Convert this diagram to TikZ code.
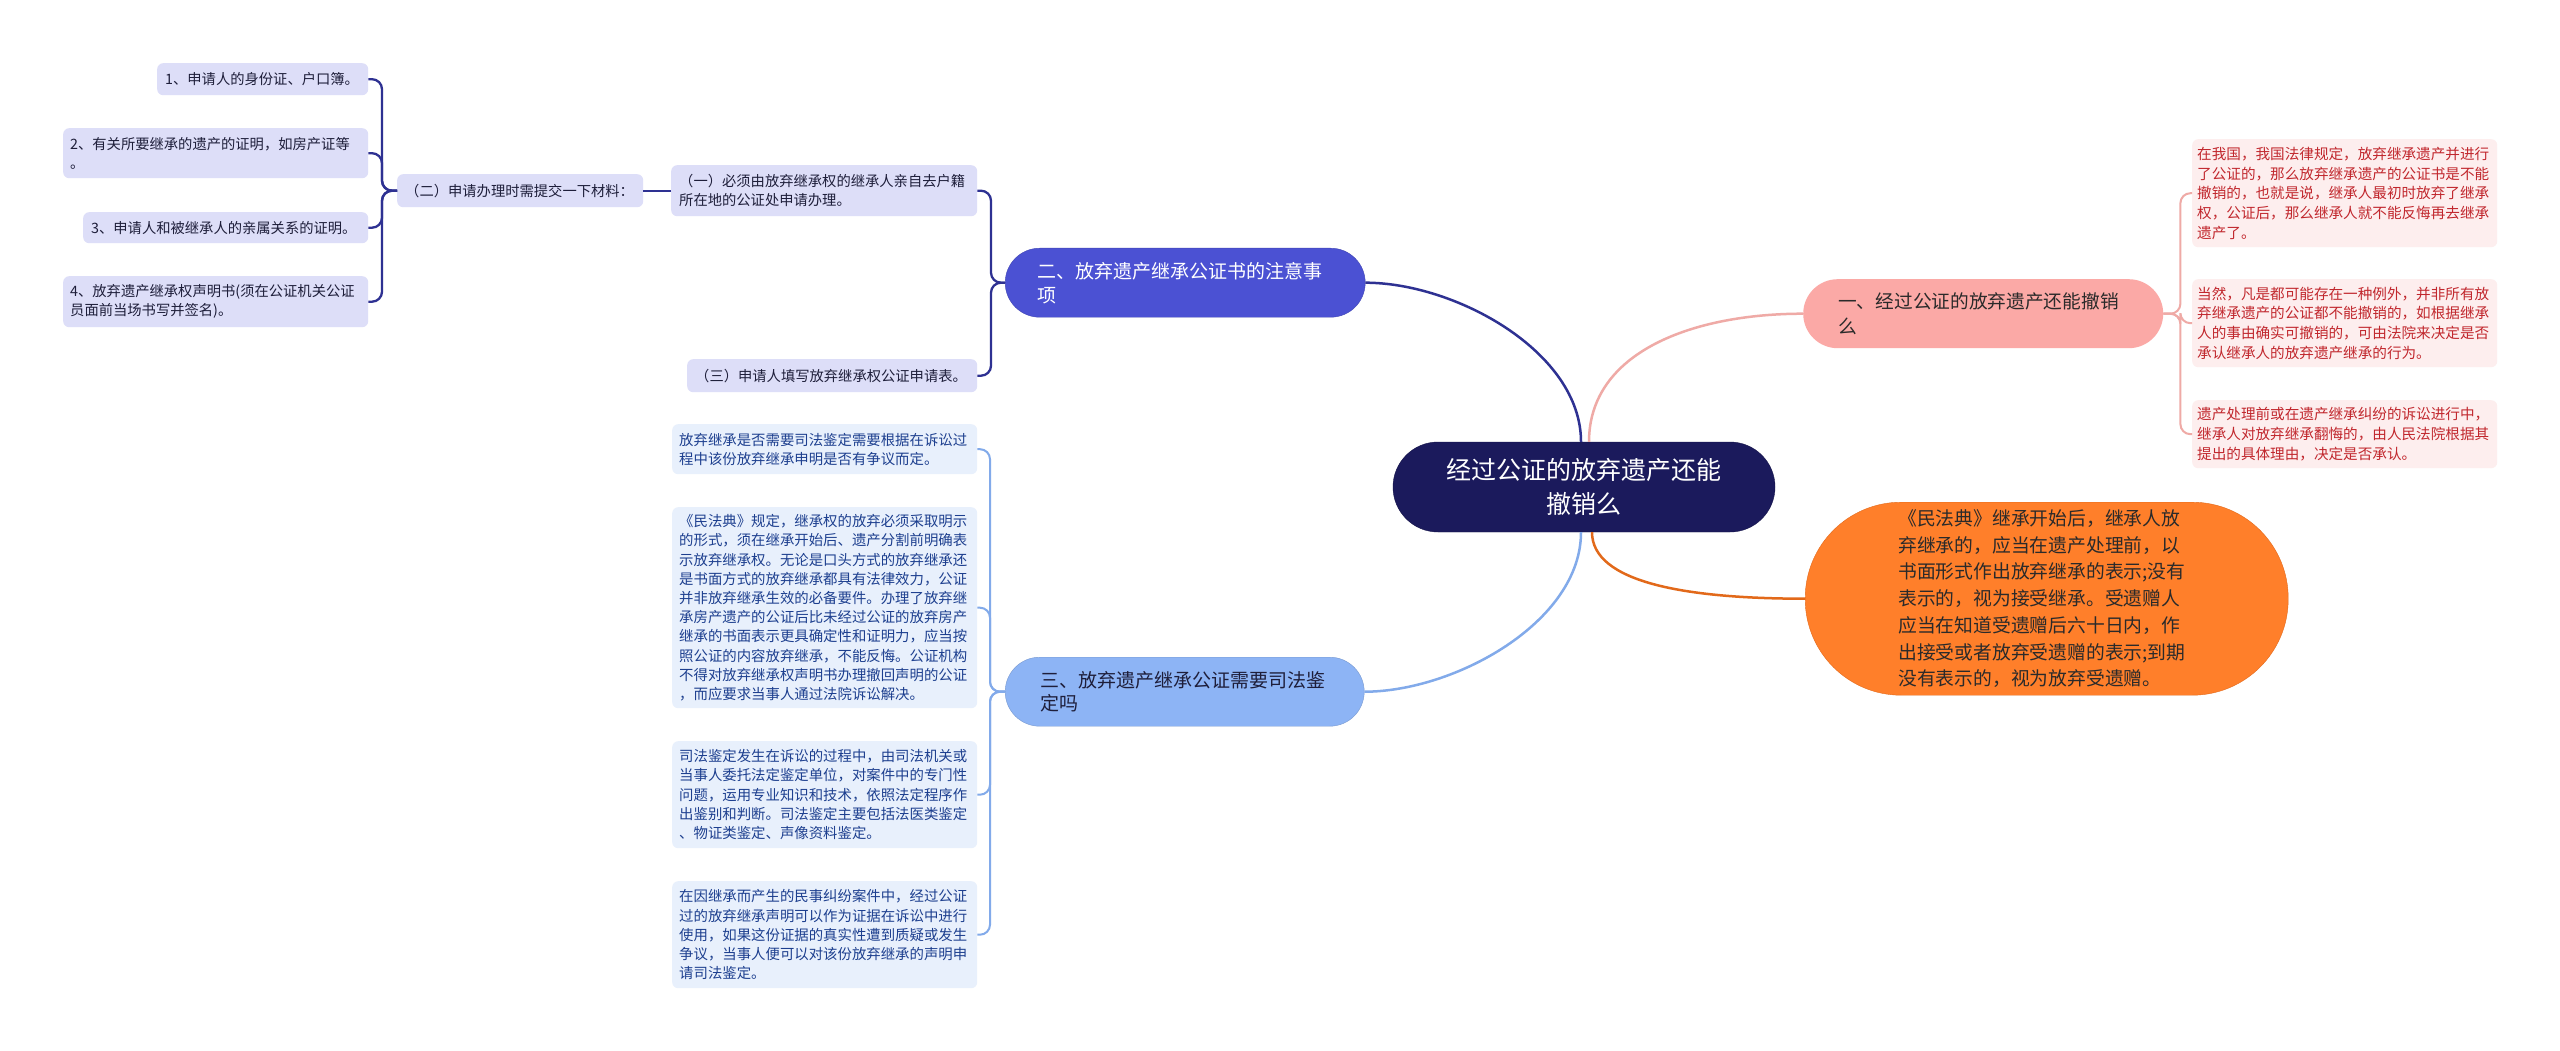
\documentclass[tikz,border=0pt]{standalone}
\usepackage{fontspec}
\setmainfont{Noto Sans CJK SC}
\definecolor{rootc}{HTML}{1B1A5C}
\definecolor{btwo}{HTML}{4B51D3}
\definecolor{btwoline}{HTML}{2E3192}
\definecolor{lav}{HTML}{DDDEF8}
\definecolor{lavtext}{HTML}{1E1E3A}
\definecolor{bthree}{HTML}{8DB4F5}
\definecolor{bthreeline}{HTML}{82AAEA}
\definecolor{tfill}{HTML}{E8F0FC}
\definecolor{ttext}{HTML}{1D3F8F}
\definecolor{bone}{HTML}{FBA9A6}
\definecolor{boneline}{HTML}{EFAAA6}
\definecolor{rfill}{HTML}{FDEEEE}
\definecolor{rtext}{HTML}{C1272D}
\definecolor{orc}{HTML}{FF7F2A}
\definecolor{orline}{HTML}{E2691A}
\definecolor{ortext}{HTML}{2A2A2A}
\begin{document}
\begin{tikzpicture}[x=1pt,y=-1pt,
  bx/.style n args={4}{rectangle, anchor=north west, align=left, inner ysep=0pt,
     minimum width=#1pt, minimum height=#2pt, inner xsep=#3pt, text width=#4pt},
  lavbox/.style={fill=lav, rounded corners=6pt, text=lavtext, font=\fontsize{14.3}{19.2}\selectfont},
  tbox/.style={fill=tfill, rounded corners=6pt, text=ttext, font=\fontsize{14.4}{19.2}\selectfont},
  rbox/.style={fill=rfill, rounded corners=6pt, text=rtext, font=\fontsize{14.6}{19.7}\selectfont},
  navyline/.style={draw=btwoline, line width=2.3pt, rounded corners=10pt},
  ltblueline/.style={draw=bthreeline, line width=2pt, rounded corners=10pt},
  pinkline/.style={draw=boneline, line width=2pt, rounded corners=10pt},
  mainline/.style={line width=2.5pt}
]
\useasboundingbox (0,0) rectangle (2560,1051);
\fill[white] (0,0) rectangle (2560,1051);

% root
\node[rectangle, fill=rootc, draw=rootc!80!black, rounded corners=45pt, minimum width=382pt, minimum height=90pt,
  align=center, text=white, font=\fontsize{25}{34}\selectfont] (root) at (1584,487) {经过公证的放弃遗产还能\\撤销么};

% main branches
\node[bx={360}{69}{35}{290}, fill=bone, rounded corners=34.5pt, text=ortext, font=\fontsize{18.7}{25}\selectfont]
  (b1) at (1803,279) {一、经过公证的放弃遗产还能撤销\\么};
\node[bx={360}{69}{32}{296}, fill=btwo, draw=btwo!85!black, rounded corners=34.5pt, text=white, font=\fontsize{19}{24}\selectfont]
  (b2) at (1005,248) {二、放弃遗产继承公证书的注意事\\项};
\node[bx={359}{69}{35}{289}, fill=bthree, draw=bthree!85!black, rounded corners=34.5pt, text=lavtext, font=\fontsize{19}{23.5}\selectfont]
  (b3) at (1005,657) {三、放弃遗产继承公证需要司法鉴\\定吗};
\node[bx={483}{193}{93}{297}, fill=orc, draw=orline, rounded corners=96pt, text=ortext, font=\fontsize{18.8}{26.7}\selectfont]
  (b4) at (1805,502) {《民法典》继承开始后，继承人放\\弃继承的，应当在遗产处理前，以\\书面形式作出放弃继承的表示;没有\\表示的，视为接受继承。受遗赠人\\应当在知道受遗赠后六十日内，作\\出接受或者放弃受遗赠的表示;到期\\没有表示的，视为放弃受遗赠。};

% right leaves
\node[bx={305}{108}{5}{295}, rbox] (r1) at (2192,139) {在我国，我国法律规定，放弃继承遗产并进行\\了公证的，那么放弃继承遗产的公证书是不能\\撤销的，也就是说，继承人最初时放弃了继承\\权，公证后，那么继承人就不能反悔再去继承\\遗产了。};
\node[bx={305}{88}{5}{295}, rbox] (r2) at (2192,279) {当然，凡是都可能存在一种例外，并非所有放\\弃继承遗产的公证都不能撤销的，如根据继承\\人的事由确实可撤销的，可由法院来决定是否\\承认继承人的放弃遗产继承的行为。};
\node[bx={305}{68}{5}{295}, rbox] (r3) at (2192,400) {遗产处理前或在遗产继承纠纷的诉讼进行中，\\继承人对放弃继承翻悔的，由人民法院根据其\\提出的具体理由，决定是否承认。};

% branch two children
\node[bx={306}{51}{8}{290}, lavbox] (n1) at (671,165) {（一）必须由放弃继承权的继承人亲自去户籍\\所在地的公证处申请办理。};
\node[bx={290}{33}{8}{274}, lavbox] (n3) at (687,359) {（三）申请人填写放弃继承权公证申请表。};
\node[bx={246}{33}{8}{230}, lavbox] (m) at (397,174) {（二）申请办理时需提交一下材料：};
\node[bx={211}{32}{8}{195}, lavbox] (l1) at (157,63) {1、申请人的身份证、户口簿。};
\node[bx={305}{50}{7}{291}, lavbox] (l2) at (63,128) {2、有关所要继承的遗产的证明，如房产证等\\。};
\node[bx={285}{31}{8}{269}, lavbox] (l3) at (83,212) {3、申请人和被继承人的亲属关系的证明。};
\node[bx={305}{51}{7}{291}, lavbox] (l4) at (63,276) {4、放弃遗产继承权声明书(须在公证机关公证\\员面前当场书写并签名)。};

% branch three children
\node[bx={305}{50}{7}{291}, tbox] (t1) at (672,424) {放弃继承是否需要司法鉴定需要根据在诉讼过\\程中该份放弃继承申明是否有争议而定。};
\node[bx={305}{201}{7}{291}, tbox] (t2) at (672,507) {《民法典》规定，继承权的放弃必须采取明示\\的形式，须在继承开始后、遗产分割前明确表\\示放弃继承权。无论是口头方式的放弃继承还\\是书面方式的放弃继承都具有法律效力，公证\\并非放弃继承生效的必备要件。办理了放弃继\\承房产遗产的公证后比未经过公证的放弃房产\\继承的书面表示更具确定性和证明力，应当按\\照公证的内容放弃继承，不能反悔。公证机构\\不得对放弃继承权声明书办理撤回声明的公证\\，而应要求当事人通过法院诉讼解决。};
\node[bx={305}{107}{7}{291}, tbox] (t3) at (672,741) {司法鉴定发生在诉讼的过程中，由司法机关或\\当事人委托法定鉴定单位，对案件中的专门性\\问题，运用专业知识和技术，依照法定程序作\\出鉴别和判断。司法鉴定主要包括法医类鉴定\\、物证类鉴定、声像资料鉴定。};
\node[bx={305}{107}{7}{291}, tbox] (t4) at (672,881) {在因继承而产生的民事纠纷案件中，经过公证\\过的放弃继承声明可以作为证据在诉讼中进行\\使用，如果这份证据的真实性遭到质疑或发生\\争议，当事人便可以对该份放弃继承的声明申\\请司法鉴定。};

% main connectors
\draw[mainline, draw=btwoline] (b2.east) .. controls +(90,0) and +(0,-90) .. ([xshift=-3pt]root.north);
\draw[mainline, draw=bthreeline] (b3.east) .. controls +(90,0) and +(0,90) .. ([xshift=-3pt]root.south);
\draw[mainline, draw=boneline] ([xshift=5pt]root.north) .. controls +(0,-90) and +(-110,0) .. (b1.west);
\draw[mainline, draw=orline] ([xshift=8pt]root.south) .. controls +(0,50) and +(-120,0) .. (b4.west);

% branch one brackets
\foreach \c in {r1,r2,r3} \draw[pinkline] (b1.east) -- ++(17,0) |- (\c.west);
% branch two brackets
\foreach \c in {n1,n3} \draw[navyline] (b2.west) -- ++(-14,0) |- (\c.east);
\draw[navyline] (n1.west) -- (m.east);
\foreach \c in {l1,l2,l3,l4} \draw[navyline] (m.west) -- ++(-15,0) |- (\c.east);
% branch three brackets
\foreach \c in {t1,t2,t3,t4} \draw[ltblueline] (b3.west) -- ++(-15,0) |- (\c.east);
\end{tikzpicture}
\end{document}
